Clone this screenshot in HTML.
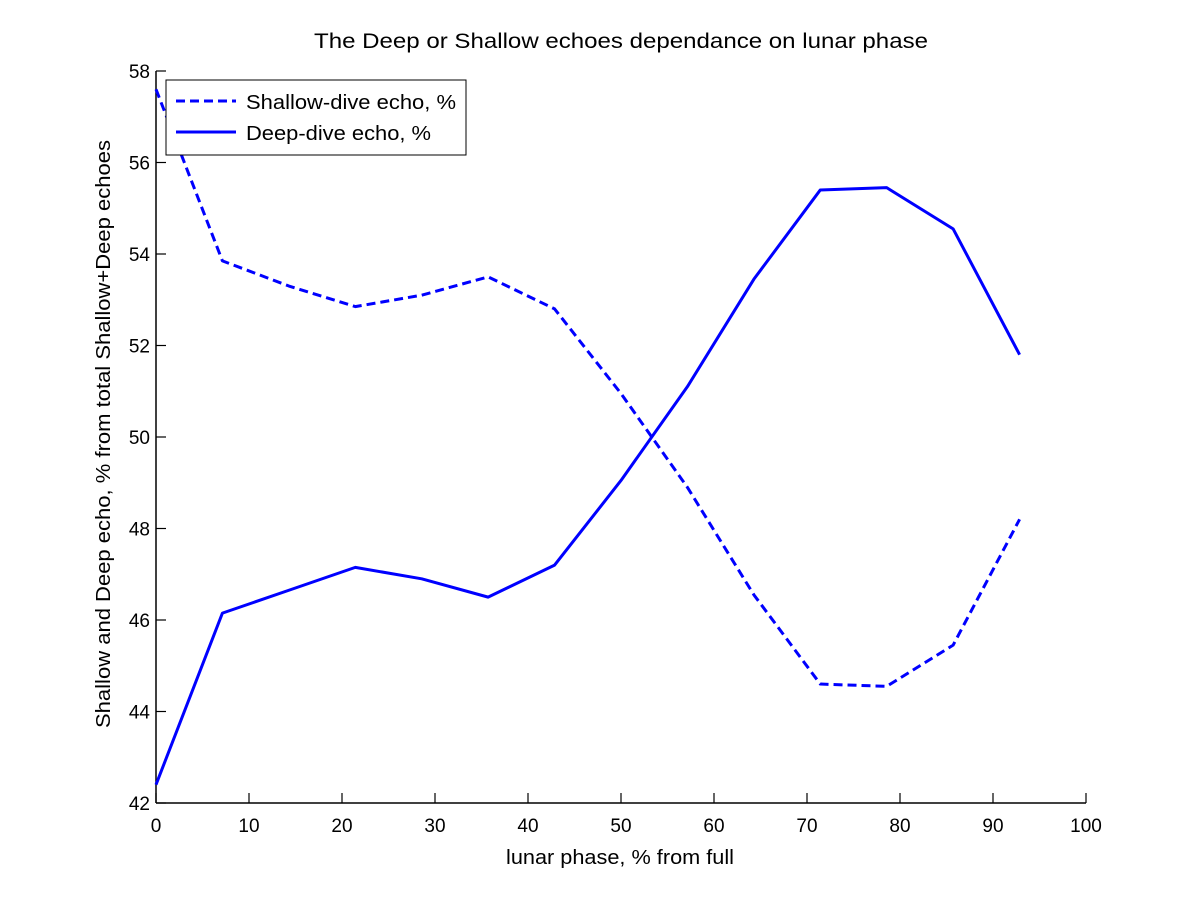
<!DOCTYPE html>
<html><head><meta charset="utf-8"><style>
body{margin:0;background:#fff;}
svg text{font-family:"Liberation Sans",sans-serif;fill:#000;}
</style></head><body>
<svg id="chart" width="1200" height="900" xmlns="http://www.w3.org/2000/svg">
<rect width="1200" height="900" fill="#fff"/>
<text x="314" y="48" font-size="21" textLength="614" lengthAdjust="spacingAndGlyphs">The Deep or Shallow echoes dependance on lunar phase</text>
<text x="506" y="864" font-size="20" textLength="228" lengthAdjust="spacingAndGlyphs">lunar phase, % from full</text>
<text transform="translate(110,728) rotate(-90)" font-size="20" textLength="588" lengthAdjust="spacingAndGlyphs">Shallow and Deep echo, % from total Shallow+Deep echoes</text>
<g id="axes"></g>
<g id="series"></g>
<g>
<rect x="166" y="80" width="300" height="75" fill="#fff" stroke="#000" stroke-width="1"/>
<line x1="176" y1="101" x2="236" y2="101" stroke="#0000ff" stroke-width="3" stroke-dasharray="9,5"/>
<text x="246" y="109" font-size="20" textLength="210" lengthAdjust="spacingAndGlyphs">Shallow-dive echo, %</text>
<line x1="176" y1="132" x2="236" y2="132" stroke="#0000ff" stroke-width="3"/>
<text x="246" y="140" font-size="20" textLength="185" lengthAdjust="spacingAndGlyphs">Deep-dive echo, %</text>
</g>
</svg>
<script>
const xValues=[0,7.14,14.29,21.43,28.57,35.71,42.86,50,57.14,64.29,71.43,78.57,85.71,92.86];
const deepValues=[42.4,46.15,46.65,47.15,46.9,46.5,47.2,49.05,51.1,53.45,55.4,55.45,54.55,51.8];
const shallowValues=[57.6,53.85,53.3,52.85,53.1,53.5,52.8,50.95,48.9,46.55,44.6,44.55,45.45,48.2];
const xTicks=[0,10,20,30,40,50,60,70,80,90,100];
const yTicks=[42,44,46,48,50,52,54,56,58];
const L=156,R=1086,T=71,B=803;
const xs=v=>L+(v-0)/(100-0)*(R-L);
const ys=v=>B-(v-42)/(58-42)*(B-T);
const NS="http://www.w3.org/2000/svg";
const axes=document.getElementById('axes');
function mk(tag,attrs,parent){const e=document.createElementNS(NS,tag);for(const k in attrs)e.setAttribute(k,attrs[k]);parent.appendChild(e);return e;}
const xa=mk('line',{x1:L,y1:B,x2:R,y2:B,stroke:'#000','stroke-width':1.5},axes);


const ya=mk('line',{x1:L,y1:T,x2:L,y2:B,stroke:'#000','stroke-width':1.5},axes);


xTicks.forEach(t=>{
  const x=xs(t);
  mk('line',{x1:x,y1:B,x2:x,y2:B-10,stroke:'#000','stroke-width':1.2},axes);
  const tx=mk('text',{x:x,y:B+29,'font-size':19,'text-anchor':'middle'},axes);
  tx.textContent=t;
  
  
});
yTicks.forEach(t=>{
  const y=ys(t);
  mk('line',{x1:L,y1:y,x2:L+10,y2:y,stroke:'#000','stroke-width':1.2},axes);
  const tx=mk('text',{x:L-6,y:y+7,'font-size':19,'text-anchor':'end'},axes);
  tx.textContent=t;
  
  
});
const series=document.getElementById('series');
function line(vals,dash,name){
  const pts=vals.map((v,i)=>xs(xValues[i])+','+ys(v)).join(' ');
  const p=mk('polyline',{points:pts,fill:'none',stroke:'#0000ff','stroke-width':3,'stroke-linejoin':'round'},series);
  if(dash)p.setAttribute('stroke-dasharray','9,5');
  
  
}
line(shallowValues,true,'shallow-dive-line');
line(deepValues,false,'deep-dive-line');
</script>
</body></html>
